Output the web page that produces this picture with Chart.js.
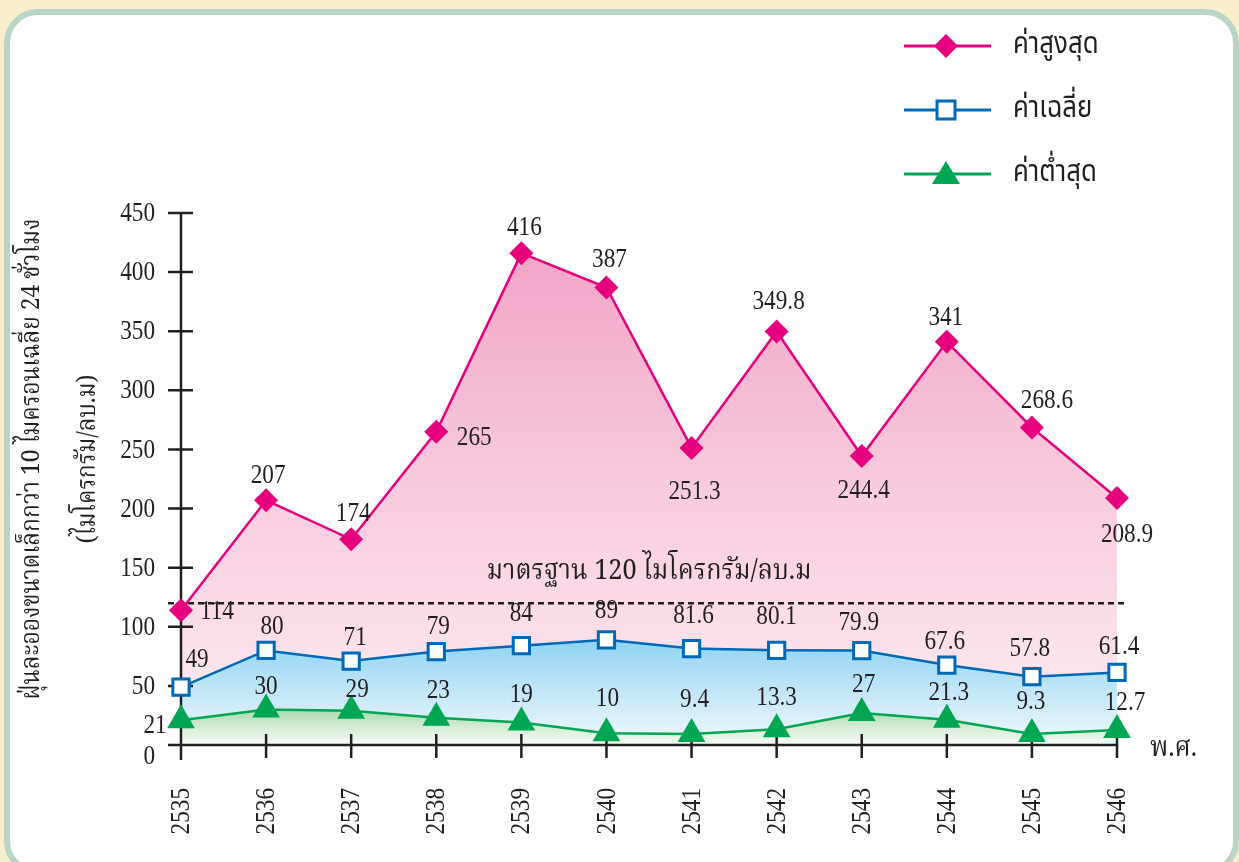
<!DOCTYPE html>
<html>
<head>
<meta charset="utf-8">
<script src="https://cdn.jsdelivr.net/npm/chart.js@4.4.1/dist/chart.umd.min.js"></script>
<style>
    html, body { margin: 0; padding: 0; width: 1239px; height: 862px; overflow: hidden; background: #f8eecb; }
    #panel {
        position: absolute; left: 4px; top: 9px; width: 1235px; height: 866px;
        background: #fff; border: 6px solid #bad5c5; border-radius: 34px; box-sizing: border-box;
    }
    #wrap { position: absolute; left: 0; top: 0; width: 1239px; height: 862px; }
</style>
</head>
<body>
<div id="panel"></div>
<div id="wrap"><canvas id="chart"></canvas></div>
<script>
// ข้อมูลฝุ่น PM10 (ไมโครกรัม/ลบ.ม)
const years      = ["2535", "2536", "2537", "2538", "2539", "2540", "2541", "2542", "2543", "2544", "2545", "2546"];
const maxValues  = [114, 207, 174, 265, 416, 387, 251.3, 349.8, 244.4, 341, 268.6, 208.9];
const avgValues  = [49, 80, 71, 79, 84, 89, 81.6, 80.1, 79.9, 67.6, 57.8, 61.4];
const minValues  = [21, 30, 29, 23, 19, 10, 9.4, 13.3, 27, 21.3, 9.3, 12.7];
const yTicks     = [0, 50, 100, 150, 200, 250, 300, 350, 400, 450];
const standard   = 120;
const seriesNames = ["ค่าสูงสุด", "ค่าเฉลี่ย", "ค่าต่ำสุด"];
const standardText = "มาตรฐาน 120 ไมโครกรัม/ลบ.ม";
const yTitle     = ["ฝุ่นละอองขนาดเล็กกว่า 10 ไมครอนเฉลี่ย 24 ชั่วโมง", "(ไมโครกรัม/ลบ.ม)"];
const xUnit      = "พ.ศ.";

const PINK  = "#e6007e";
const BLUE  = "#0068b5";
const GREEN = "#00a651";
const INK   = "#231f20";
const NUM_FONT   = "27px 'Liberation Serif', 'DejaVu Serif', serif";
const THAI_SERIF = "'Noto Serif Thai', 'Noto Sans Thai', 'Loma', 'Garuda', serif";
const THAI_SANS  = "'Noto Sans Thai', 'Loma', 'Garuda', sans-serif";

// ตำแหน่งป้ายตัวเลข: [dx, dy] จากจุด
const maxLabelOffsets = [[36, 2], [2, -24], [2, -25], [38, 6], [3, -25], [3, -28], [3, 44], [2, -30], [2, 35], [-1, -24], [15, -27], [10, 37]];
const avgLabelOffsets = [[16, -27], [6, -24], [4, -23], [2, -25], [0, -32], [0, -29], [2, -33], [0, -33], [-3, -28], [-2, -23], [-2, -28], [2, -26]];
const minLabelOffsets = [[-26, 6], [0, -23], [6, -21], [2, -27], [0, -28], [1, -34], [3, -34], [0, -31], [2, -28], [2, -27], [-1, -32], [8, -27]];

function vGradient(stops, fromVal, toVal) {
    return function(ctx) {
        const chart = ctx.chart;
        if (!chart.chartArea) return stops[0];
        const y = chart.scales.y;
        const g = chart.ctx.createLinearGradient(0, y.getPixelForValue(fromVal), 0, y.getPixelForValue(toVal));
        stops.forEach(function(c, i) { g.addColorStop(i / (stops.length - 1), c); });
        return g;
    };
}

// ข้อความแบบแคบ (rotate = หมุนอ่านจากล่างขึ้นบน)
function narrowText(ctx, text, x, y, align, rotate, font, sx) {
    ctx.save();
    ctx.translate(x, y);
    if (rotate) ctx.rotate(-Math.PI / 2);
    ctx.scale(sx, 1);
    ctx.font = font;
    ctx.textAlign = align;
    ctx.textBaseline = "middle";
    ctx.fillText(text, 0, 0);
    ctx.restore();
}

function numText(ctx, text, x, y, align, rotate) {
    narrowText(ctx, text, x, y, align, rotate, NUM_FONT, 0.86);
}

const decorPlugin = {
    id: "decor",
    beforeDatasetsDraw(chart) {
        const ctx = chart.ctx;
        const x = chart.scales.x, y = chart.scales.y;
        const x0 = x.getPixelForValue(0);
        const xN = x.getPixelForValue(years.length - 1);
        const yb = y.getPixelForValue(0);
        ctx.save();
        ctx.strokeStyle = INK;
        ctx.lineWidth = 2.5;
        // แกน
        ctx.beginPath();
        ctx.moveTo(x0, y.getPixelForValue(450));
        ctx.lineTo(x0, yb + 15);
        ctx.moveTo(x0 - 13, yb);
        ctx.lineTo(xN, yb);
        yTicks.forEach(function(v) {
            if (v === 0) return;
            const py = y.getPixelForValue(v);
            ctx.moveTo(x0 - 13, py);
            ctx.lineTo(x0 + 12, py);
        });
        years.forEach(function(_, i) {
            if (i === 0) return;
            const px = x.getPixelForValue(i);
            ctx.moveTo(px, yb - 11);
            ctx.lineTo(px, yb + 13);
        });
        ctx.stroke();
        // เส้นมาตรฐาน
        const ys = y.getPixelForValue(standard);
        ctx.setLineDash([6, 4]);
        ctx.beginPath();
        ctx.moveTo(x0 - 13, ys);
        ctx.lineTo(xN + 8, ys);
        ctx.stroke();
        ctx.restore();
    },
    afterDraw(chart) {
        const ctx = chart.ctx;
        const x = chart.scales.x, y = chart.scales.y;
        const x0 = x.getPixelForValue(0);
        const yb = y.getPixelForValue(0);
        ctx.save();
        ctx.fillStyle = INK;

        // ป้ายแกน
        yTicks.forEach(function(v) {
            numText(ctx, String(v), x0 - 26, y.getPixelForValue(v) + (v === 0 ? 12 : 1), "right", false);
        });
        years.forEach(function(yr, i) {
            numText(ctx, yr, x.getPixelForValue(i) + 1, yb + 43, "right", true);
        });

        // ป้ายค่า
        [[maxValues, maxLabelOffsets], [avgValues, avgLabelOffsets], [minValues, minLabelOffsets]].forEach(function(pair) {
            pair[0].forEach(function(v, i) {
                const off = pair[1][i];
                numText(ctx, String(v), x.getPixelForValue(i) + off[0], y.getPixelForValue(v) + off[1], "center", false);
            });
        });

        // ข้อความมาตรฐาน
        narrowText(ctx, standardText, (x.getPixelForValue(5) + x.getPixelForValue(6)) / 2,
                   y.getPixelForValue(standard) - 29, "center", false, "28px " + THAI_SERIF, 0.9);

        // พ.ศ.
        narrowText(ctx, xUnit, x.getPixelForValue(years.length - 1) + 33, yb + 6, "left", false, "28px " + THAI_SERIF, 0.9);

        // ชื่อแกน y
        const cy = (chart.chartArea.top + chart.chartArea.bottom) / 2 - 20;
        narrowText(ctx, yTitle[0], 35, cy, "center", true, "26px " + THAI_SERIF, 0.88);
        narrowText(ctx, yTitle[1], 91, cy, "center", true, "26px " + THAI_SERIF, 0.88);

        // คำอธิบายสัญลักษณ์
        const colors = [PINK, BLUE, GREEN];
        const rows = [46, 110, 174];
        rows.forEach(function(ry, i) {
            ctx.strokeStyle = colors[i];
            ctx.lineWidth = 3;
            ctx.beginPath();
            ctx.moveTo(904, ry);
            ctx.lineTo(991, ry);
            ctx.stroke();
            ctx.beginPath();
            if (i === 0) {
                ctx.moveTo(946, ry - 12); ctx.lineTo(958, ry); ctx.lineTo(946, ry + 12); ctx.lineTo(934, ry);
                ctx.closePath();
                ctx.fillStyle = PINK; ctx.fill();
            } else if (i === 1) {
                ctx.rect(937, ry - 9, 18, 18);
                ctx.fillStyle = "#fff"; ctx.fill();
                ctx.lineWidth = 3; ctx.stroke();
            } else {
                ctx.moveTo(946, ry - 13); ctx.lineTo(960, ry + 10); ctx.lineTo(932, ry + 10);
                ctx.closePath();
                ctx.fillStyle = GREEN; ctx.fill();
            }
            ctx.fillStyle = INK;
            narrowText(ctx, seriesNames[i], 1013, ry + 1, "left", false, "30px " + THAI_SANS, 0.86);
        });
        ctx.restore();
    },
};

new Chart(document.getElementById("chart"), {
    type: "line",
    data: {
        labels: years,
        datasets: [
            {
                label: seriesNames[0],
                data: maxValues,
                borderColor: PINK,
                borderWidth: 2.5,
                backgroundColor: vGradient(["#f2a2c5", "#f8cbde", "#fdeef4"], 430, 0),
                fill: "origin",
                pointStyle: "rectRot",
                pointRadius: 12,
                pointBackgroundColor: PINK,
                pointBorderColor: PINK,
                pointBorderWidth: 0,
                tension: 0,
                clip: false,
                order: 3,
            },
            {
                label: seriesNames[1],
                data: avgValues,
                borderColor: BLUE,
                borderWidth: 2.5,
                backgroundColor: vGradient(["#8ad2f3", "#c2e6f7", "#f1f9fc"], 92, 0),
                fill: "origin",
                pointStyle: "rect",
                pointRadius: 11.5,
                pointBackgroundColor: "#fff",
                pointBorderColor: BLUE,
                pointBorderWidth: 3,
                tension: 0,
                clip: false,
                order: 2,
            },
            {
                label: seriesNames[2],
                data: minValues,
                borderColor: GREEN,
                borderWidth: 2.5,
                backgroundColor: vGradient(["#a3d6a9", "#d3ebd4", "#f6fbf6"], 32, 0),
                fill: "origin",
                pointStyle: "triangle",
                pointRadius: 16,
                pointBackgroundColor: GREEN,
                pointBorderColor: GREEN,
                pointBorderWidth: 0,
                tension: 0,
                clip: false,
                order: 1,
            },
        ],
    },
    options: {
        responsive: true,
        maintainAspectRatio: false,
        animation: false,
        events: [],
        layout: { padding: { top: 213, right: 122, left: 0, bottom: 0 } },
        plugins: {
            legend: { display: false },
            tooltip: { enabled: false },
            filler: { drawTime: "beforeDatasetsDraw" },
        },
        scales: {
            x: {
                offset: false,
                grid: { display: false, drawTicks: false },
                border: { display: false },
                ticks: { display: false, autoSkip: false },
                afterFit: function(s) { s.height = 117; },
            },
            y: {
                min: 0,
                max: 450,
                grid: { display: false, drawTicks: false },
                border: { display: false },
                ticks: { display: false, stepSize: 50 },
                afterFit: function(s) { s.width = 181; },
            },
        },
    },
    plugins: [decorPlugin],
});
</script>
</body>
</html>
